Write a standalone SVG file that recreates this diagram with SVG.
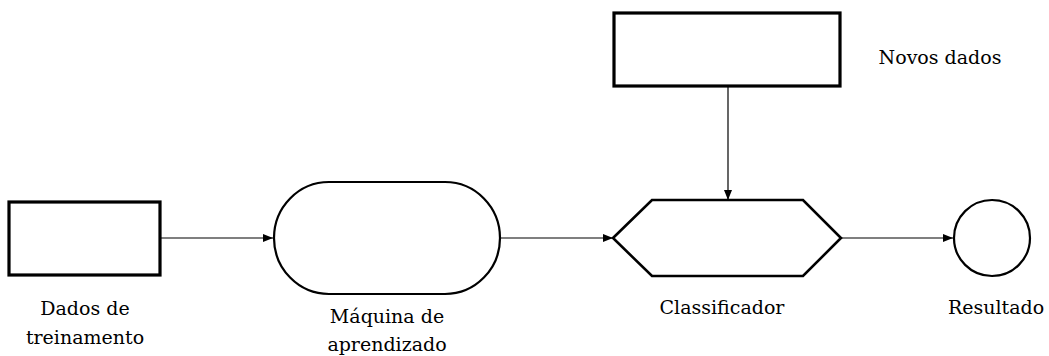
<svg xmlns="http://www.w3.org/2000/svg" width="1049" height="356" viewBox="0 0 1049 356">
<defs>
<style>
text{font-family:'DejaVu Serif',serif;font-size:19px;fill:#000;text-anchor:middle}
.thick{fill:#fff;stroke:#000;stroke-width:3.2}
.med{fill:#fff;stroke:#000;stroke-width:2.2}
.edge{fill:none;stroke:#000;stroke-width:1.2}
</style>
<marker id="arr" viewBox="0 0 10 8" refX="10" refY="4" markerWidth="10" markerHeight="8" markerUnits="userSpaceOnUse" orient="auto">
<path d="M0,0 L10,4 L0,8 Z" fill="#000"/>
</marker>
</defs>
<g id="connectors">
<line class="edge" x1="161" y1="238" x2="273" y2="238" marker-end="url(#arr)"/>
<line class="edge" x1="501" y1="238" x2="613" y2="238" marker-end="url(#arr)"/>
<line class="edge" x1="728" y1="87" x2="728" y2="200" marker-end="url(#arr)"/>
<line class="edge" x1="841" y1="238" x2="953" y2="238" marker-end="url(#arr)"/>
</g>
<g id="dados-treinamento">
<rect class="thick" x="9" y="202" width="151" height="73"/>
<text x="85" y="315">Dados de</text>
<text x="85" y="344">treinamento</text>
</g>
<g id="maquina">
<rect class="med" x="274" y="182" width="226" height="112" rx="55" ry="56"/>
<text x="387" y="323">Máquina de</text>
<text x="387" y="351">aprendizado</text>
</g>
<g id="novos-dados">
<rect class="thick" x="614" y="13" width="226" height="73"/>
<text x="940" y="64">Novos dados</text>
</g>
<g id="classificador">
<polygon class="thick" points="613,238 652,200 803,200 841,238 803,276 652,276" style="stroke-width:2.6"/>
<text x="722" y="314">Classificador</text>
</g>
<g id="resultado">
<circle class="med" cx="992" cy="238" r="38"/>
<text x="996" y="314">Resultado</text>
</g>
</svg>
